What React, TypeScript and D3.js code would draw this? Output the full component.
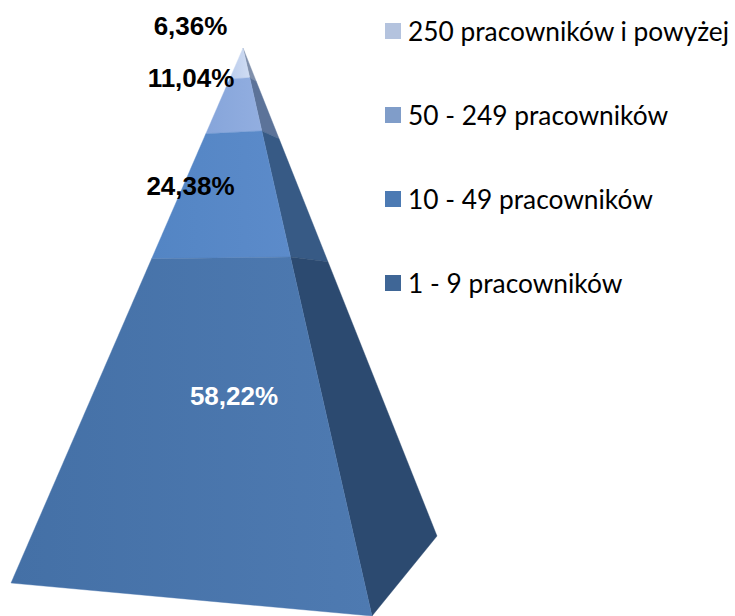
import React from "react";
import * as d3 from "d3";

const categories = ["250 pracowników i powyżej", "50 - 249 pracowników", "10 - 49 pracowników", "1 - 9 pracowników"];
const shares = [6.36, 11.04, 24.38, 58.22];
const shareLabels = ["6,36%", "11,04%", "24,38%", "58,22%"];
const frontFrom = ["#bccdec", "#86a5da", "#5385c4", "#4470a6"];
const frontTo = ["#cfdcf3", "#92aee0", "#5c8bca", "#4e7ab1"];
const sideColors = ["#7f8fab", "#5c7399", "#375a85", "#2c4a70"];
const legendColors = ["#b4c3de", "#809dc9", "#4c7ab3", "#3f6696"];
const labelColors = ["#000", "#000", "#000", "#fff"];
const labelPos: [number, number][] = [[190.5, 35], [191, 87], [190.5, 195], [234, 405]];

const apex: [number, number] = [243, 48];
const baseLeft = { p: [11, 583] as [number, number], w: 0.906 };
const baseFront = { p: [372, 616] as [number, number], w: 0.811 };
const baseRight = { p: [437, 536] as [number, number], w: 1.086 };

const cumulative = d3.cumsum(shares);
const scaleT = d3.scaleLinear().domain([0, d3.sum(shares)]).range([0, 1]);

function onEdge(c: { p: [number, number]; w: number }, value: number): [number, number] {
  const t = scaleT(value);
  const k = (t * c.w) / (1 - t + t * c.w);
  return [d3.interpolateNumber(apex[0], c.p[0])(k), d3.interpolateNumber(apex[1], c.p[1])(k)];
}
const poly = d3.line();

export default function App() {
  return (
    <svg width={735} height={616} style={{ position: "absolute", left: 0, top: 0, background: "#fff" }}>
      <defs>
        {shares.map((_, i) => (
          <linearGradient key={i} id={`f${i}`} x1="0" x2="1" y1="0" y2="0">
            <stop offset="0" stopColor={frontFrom[i]} />
            <stop offset="1" stopColor={frontTo[i]} />
          </linearGradient>
        ))}
      </defs>
      {shares.map((_, i) => {
        const a = i === 0 ? 0 : cumulative[i - 1];
        const b = cumulative[i];
        const front = [onEdge(baseLeft, a), onEdge(baseFront, a), onEdge(baseFront, b), onEdge(baseLeft, b)];
        const side = [onEdge(baseFront, a), onEdge(baseRight, a), onEdge(baseRight, b), onEdge(baseFront, b)];
        return (
          <g key={i}>
            <path d={poly(side) + "Z"} fill={sideColors[i]} stroke={sideColors[i]} strokeWidth={0.4} />
            <path d={poly(front) + "Z"} fill={`url(#f${i})`} stroke={frontTo[i]} strokeWidth={0.4} />
          </g>
        );
      })}
      {shareLabels.map((s, i) => (
        <text key={s} x={labelPos[i][0]} y={labelPos[i][1]} textAnchor="middle" fontFamily="Liberation Sans" fontWeight="bold" fontSize={26} fill={labelColors[i]}>
          {s}
        </text>
      ))}
      {categories.map((c, i) => {
        const y = 31 + i * 84;
        return (
          <g key={c}>
            <rect x={385} y={y - 8} width={16} height={16} fill={legendColors[i]} />
            <text x={408} y={y + 10} fontFamily="Lato" fontSize={26.3} fill="#000">
              {c}
            </text>
          </g>
        );
      })}
    </svg>
  );
}
